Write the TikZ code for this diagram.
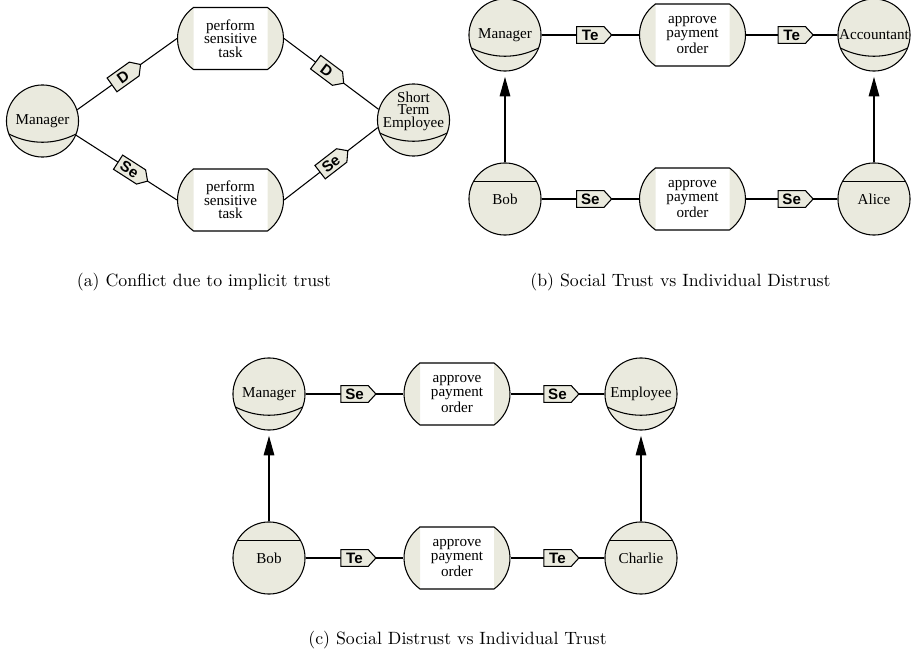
\documentclass[tikz,border=0pt]{standalone}
\usepackage{fontspec}
\newfontfamily\timesfont{Liberation Serif}
\newfontfamily\helvfont{Liberation Sans}
\usetikzlibrary{shapes,arrows.meta}

% role: curved band across the lower part of the circle
\newcommand\rolearc[1]{%
  \draw ([shift={(-33.6,-13)}]#1.center) .. controls ([shift={(-12,-24)}]#1.center)
    and ([shift={(12,-24)}]#1.center) .. ([shift={(33.6,-13)}]#1.center);}
% agent: straight bar across the upper part of the circle
\newcommand\agentbar[1]{%
  \draw ([shift={(-31.5,17.5)}]#1.center) -- ([shift={(31.5,17.5)}]#1.center);}
% task: outline with two rounded caps
\newcommand\taskshape[1]{%
  \begin{scope}[shift={(#1.center)}]
    \fill[cActor] (-37,31) arc[start angle=125.4, end angle=234.6, radius=38.03] -- cycle;
    \fill[cActor] (37,-31) arc[start angle=-54.6, end angle=54.6, radius=38.03] -- cycle;
    \draw (-37,31) -- (37,31) arc[start angle=54.6, end angle=-54.6, radius=38.03]
      -- (-37,-31) arc[start angle=234.6, end angle=125.4, radius=38.03] -- cycle;
  \end{scope}}

\begin{document}
\begin{tikzpicture}[x=0.562pt, y=0.562pt, line width=0.6pt]
  % Fill shared by actors, task caps and link boxes
  \definecolor{cActor}{RGB}{234,234,222}

  \tikzset{
    actor/.style={circle, draw, fill=cActor, minimum size=40.5pt, inner sep=0pt,
      align=center, font=\timesfont\fontsize{8.5}{7.6}\selectfont},
    task/.style={rectangle, minimum width=59.6pt, minimum height=35pt,
      inner sep=0pt, align=center, font=\timesfont\fontsize{8.5}{7.6}\selectfont},
    link/.style={signal, signal to=east, signal pointer angle=95, draw, fill=cActor,
      minimum height=9.5pt, minimum width=19.7pt, inner sep=1pt,
      font=\helvfont\bfseries\fontsize{8.5}{9}\selectfont},
    depend/.style={-{Triangle[length=11pt, width=6pt]}, shorten >=3pt},
    caption/.style={font=\fontsize{10}{12}\selectfont}
  }

  \useasboundingbox (0,0) rectangle (916,-661);

  % (a) conflict due to implicit trust
  \node[actor] (manA) at (42.5,-121) {Manager};
  \node[task] (tkA1) at (230.5,-38.5) {perform\\sensitive\\task};
  \node[task] (tkA2) at (230.5,-200) {perform\\sensitive\\task};
  \node[actor] (steA) at (413.5,-120) {};
  \node[align=center, font=\timesfont\fontsize{8.5}{7}\selectfont] (steTxt) at (413.5,-111) {Short\\Term\\Employee};
  \rolearc{manA} \rolearc{steA}
  \taskshape{tkA1} \taskshape{tkA2}

  \draw (manA.18) -- node[link, sloped, pos=.46] (dA1) {D} (tkA1.west);
  \draw (tkA1.east) -- node[link, sloped, pos=.45] (dA2) {D} (steA.163);
  \draw (manA.-23) -- node[link, sloped, pos=.53] (seA1) {Se} (tkA2.west);
  \draw (tkA2.east) -- node[link, sloped, pos=.5] (seA2) {Se} (steA.192);

  \node[caption] (capA) at (204,-282) {(a) Conflict due to implicit trust};

  % (b) social trust vs individual distrust
  \node[actor] (mgrB)   at (505,-35)    {Manager};
  \node[task]  (tkB1)   at (692.5,-35)  {approve\\payment\\order};
  \node[actor] (accB)   at (874,-35)    {Accountant};
  \node[actor] (bobB)   at (505,-199)   {Bob};
  \node[task]  (tkB2)   at (692.5,-199) {approve\\payment\\order};
  \node[actor] (aliceB) at (874,-199)   {Alice};
  \rolearc{mgrB} \rolearc{accB} \agentbar{bobB} \agentbar{aliceB}
  \taskshape{tkB1} \taskshape{tkB2}

  \draw (mgrB) -- node[link] (teB1) {Te} (tkB1) -- node[link] (teB2) {Te} (accB);
  \draw (bobB) -- node[link] (seB1) {Se} (tkB2) -- node[link] (seB2) {Se} (aliceB);
  \draw[depend] (bobB) -- (mgrB);
  \draw[depend] (aliceB) -- (accB);

  \node[caption] (capB) at (680.5,-282) {(b) Social Trust vs Individual Distrust};

  % (c) social distrust vs individual trust
  \node[actor] (mgrC)  at (269,-394) {Manager};
  \node[task]  (tkC1)  at (457,-394) {approve\\payment\\order};
  \node[actor] (empC)  at (641,-394) {Employee};
  \node[actor] (bobC)  at (269,-558) {Bob};
  \node[task]  (tkC2)  at (457,-558) {approve\\payment\\order};
  \node[actor] (charC) at (641,-558) {Charlie};
  \rolearc{mgrC} \rolearc{empC} \agentbar{bobC} \agentbar{charC}
  \taskshape{tkC1} \taskshape{tkC2}

  \draw (mgrC) -- node[link] (seC1) {Se} (tkC1) -- node[link] (seC2) {Se} (empC);
  \draw (bobC) -- node[link] (teC1) {Te} (tkC2) -- node[link] (teC2) {Te} (charC);
  \draw[depend] (bobC) -- (mgrC);
  \draw[depend] (charC) -- (empC);

  \node[caption] (capC) at (457.5,-640) {(c) Social Distrust vs Individual Trust};
\end{tikzpicture}
\end{document}
